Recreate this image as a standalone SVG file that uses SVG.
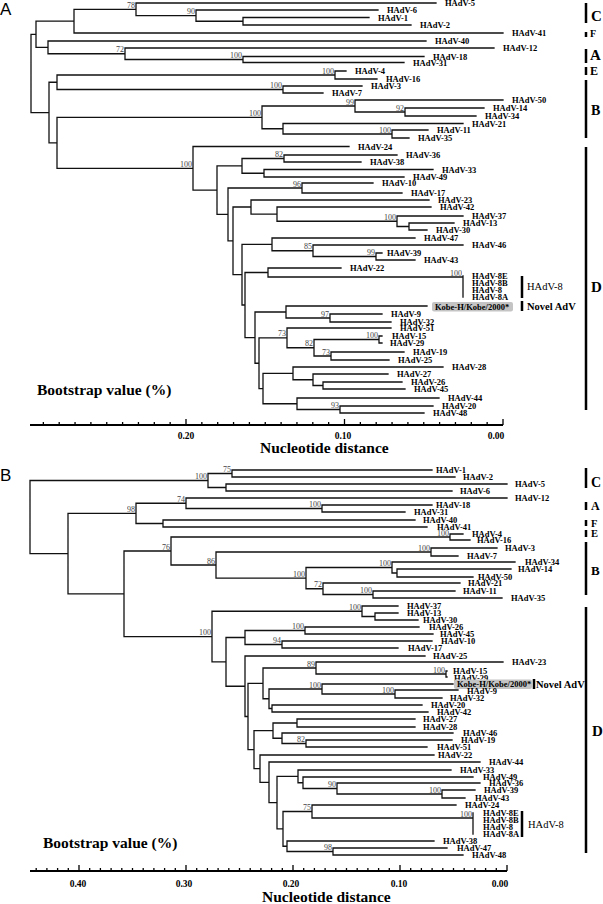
<svg xmlns="http://www.w3.org/2000/svg" width="603" height="904" viewBox="0 0 603 904">
<style>
.br{fill:none;stroke:#111;stroke-width:1.3;stroke-linecap:square}
.lf{font-family:"Liberation Serif",serif;font-weight:bold;font-size:8.5px;fill:#000}
.bs{font-family:"Liberation Serif",serif;font-size:8px;fill:#444;text-anchor:end}
.bsg{opacity:0.99}
.cl{font-family:"Liberation Serif",serif;font-weight:bold;fill:#000}
.bar{stroke:#000;stroke-width:2.5;fill:none}
.ax{stroke:#000;stroke-width:2;fill:none}
.tk{stroke:#000;stroke-width:1.3;fill:none}
.axl{font-family:"Liberation Serif",serif;font-weight:bold;font-size:9.5px;text-anchor:middle}
.ttl{font-family:"Liberation Serif",serif;font-weight:bold;font-size:15.5px}
.pn{font-family:"Liberation Sans",sans-serif;font-size:17px}
.box{fill:#c4c4c4}
</style>
<rect width="603" height="904" fill="#fff"/>
<text class="pn" x="0" y="15">A</text>
<text class="pn" x="0" y="481">B</text>

<g id="connectors">
<path class="br" d="M31 34.3V112.6M31 34.3H36M31 112.6H49
M36 21.15V47.4M36 21.15H74M36 47.4H48
M74 9.3V33M74 9.3H136M74 33H503
M136 3V15.6M136 3H436M136 15.6H196
M196 10V21.25M196 10H378M196 21.25H243
M243 17.5V25M243 17.5H369M243 25H411
M48 41V53.75M48 41H426M48 53.75H125
M125 48V59.5M125 48H494M125 59.5H243
M243 56.5V62.5M243 56.5H424M243 62.5H404
M49 82.25V142.9M49 82.25H57M49 142.9H57
M57 75V89.5M57 75H335M57 89.5H283
M335 71V79M335 71H346M335 79H377
M283 86V93M283 86H362M283 93H323
M57 117.4V168.3M57 117.4H262M57 168.3H193
M262 106V128.75M262 106H355M262 128.75H283
M355 100V112M355 100H503M355 112H405
M405 108V116M405 108H484M405 116H476
M283 123.5V134M283 123.5H463M283 134H392
M392 130V138M392 130H428M392 138H409
M193 146.5V190.15M193 146.5H349M193 190.15H217
M217 165.9V214.4M217 165.9H242M217 214.4H228
M242 158.5V173.25M242 158.5H284M242 173.25H264
M284 155V162M284 155H397M284 162H361
M264 169.5V177M264 169.5H433M264 177H404
M228 188V240.85M228 188H302M228 240.85H233
M302 183V193M302 183H373M302 193H402
M233 207V274.7M233 207H251M233 274.7H242
M251 200V214.1M251 200H429M251 214.1H277
M277 207V221.25M277 207H431M277 221.25H397
M397 216V226.5M397 216H463M397 226.5H409
M409 223V230M409 223H454M409 230H427
M242 244.4V305M242 244.4H272M242 305H245
M272 238V250.75M272 238H415M272 250.75H313
M313 245V256.5M313 245H463M313 256.5H376
M376 253V260M376 253H382M376 260H415
M245 272.5V337.6M245 272.5H268M245 337.6H255
M268 268V277M268 268H341M268 277H463
M463 276V297
M255 312V363.25M255 312H286M255 363.25H259
M286 306V318M286 306H427M286 318H330
M330 314V322M330 314H382M330 322H391
M259 337.9V388.6M259 337.9H287M259 388.6H263
M287 328V347.75M287 328H391M287 347.75H314
M314 339.5V356M314 339.5H379M314 356H331
M379 336V343M379 336H382M379 343H382
M331 352V360M331 352H404M331 360H389
M263 373.4V403.75M263 373.4H293M263 403.75H297
M293 367V379.75M293 367H443M293 379.75H313
M313 374V385.5M313 374H388M313 385.5H323
M323 382V389M323 382H402M323 389H405
M297 398V409.5M297 398H439M297 409.5H340
M340 406V413M340 406H433M340 413H424"/>
<path class="br" d="M30 480.5V553.6M30 480.5H208M30 553.6H68
M208 473.5V487.5M208 473.5H232M208 487.5H226
M232 470V477M232 470H432M232 477H455
M226 484V491M226 484H507M226 491H452
M68 513.4V593.8M68 513.4H136M68 593.8H124
M136 503.25V523.5M136 503.25H186M136 523.5H163
M186 498V508.5M186 498H507M186 508.5H322
M322 505V512M322 505H432M322 512H405
M163 520V527M163 520H415M163 527H427
M124 551V636.6M124 551H171M124 636.6H212
M171 537V565M171 537H450M171 565H216
M450 534V540M450 534H463M450 540H470
M216 552V578.1M216 552H431M216 578.1H306
M431 548V556M431 548H497M431 556H458
M306 567.5V588.75M306 567.5H392M306 588.75H323
M392 562V573M392 562H515M392 573H397
M397 569V577M397 569H511M397 577H473
M323 583V594.5M323 583H460M323 594.5H373
M373 591V598M373 591H455M373 598H502
M212 611.25V661.9M212 611.25H362M212 661.9H226
M362 606V616.5M362 606H398M362 616.5H375
M375 613V620M375 613H398M375 620H418
M226 637.5V686.25M226 637.5H245M226 686.25H245
M245 630.5V644.5M245 630.5H305M245 644.5H282
M305 627V634M305 627H419M305 634H433
M282 641V648M282 641H432M282 648H398
M245 656V716.5M245 656H425M245 716.5H248
M248 683.4V749.6M248 683.4H263M248 749.6H254
M263 668V698.75M263 668H316M263 698.75H269
M316 662V674M316 662H503M316 674H446
M446 671V677M446 671H447M446 677H447
M269 689V708.5M269 689H322M269 708.5H272
M322 684V694M322 684H453M322 694H395
M395 690V698M395 690H458M395 698H442
M272 705V712M272 705H422M272 712H428
M254 730.6V768.65M254 730.6H273M254 768.65H260
M273 723V738.25M273 723H297M273 738.25H282
M297 719V727M297 719H415M297 727H415
M282 733V743.5M282 733H453M282 743.5H306
M306 740V747M306 740H452M306 747H427
M260 755V782.3M260 755H434M260 782.3H269
M269 762V802.6M269 762H480M269 802.6H277
M277 776.4V828.9M277 776.4H298M277 828.9H283
M298 770V782.75M298 770H451M298 782.75H303
M303 777V788.5M303 777H473M303 788.5H337
M337 783V794M337 783H480M337 794H442
M442 790V798M442 790H475M442 798H465
M283 811.5V846.25M283 811.5H312M283 846.25H287
M312 805V818M312 805H456M312 818H473
M473 813V834
M287 841V851.5M287 841H434M287 851.5H333
M333 848V855M333 848H447M333 855H463"/>
</g>

<g id="bootstrap-a" class="bsg">
<text class="bs" x="135" y="7.8">78</text>
<text class="bs" x="195" y="14.1">90</text>
<text class="bs" x="124" y="52.3">72</text>
<text class="bs" x="242" y="58">100</text>
<text class="bs" x="334" y="73.5">100</text>
<text class="bs" x="282" y="88">100</text>
<text class="bs" x="261" y="115.9">100</text>
<text class="bs" x="354" y="104.5">99</text>
<text class="bs" x="404" y="110.5">92</text>
<text class="bs" x="391" y="132.5">100</text>
<text class="bs" x="192" y="166.8">100</text>
<text class="bs" x="283" y="157">82</text>
<text class="bs" x="301" y="186.5">96</text>
<text class="bs" x="396" y="219.7">100</text>
<text class="bs" x="312" y="249.2">85</text>
<text class="bs" x="375" y="255">99</text>
<text class="bs" x="462" y="275.5">100</text>
<text class="bs" x="329" y="316.5">97</text>
<text class="bs" x="378" y="338">100</text>
<text class="bs" x="313" y="346.2">82</text>
<text class="bs" x="330" y="354.5">73</text>
<text class="bs" x="286" y="336.4">73</text>
<text class="bs" x="339" y="408">93</text>
</g>
<g id="bootstrap-b" class="bsg">
<text class="bs" x="207" y="479">100</text>
<text class="bs" x="231" y="472">75</text>
<text class="bs" x="135" y="511.9">98</text>
<text class="bs" x="185" y="501.7">74</text>
<text class="bs" x="321" y="507">100</text>
<text class="bs" x="170" y="549.5">76</text>
<text class="bs" x="215" y="563.5">86</text>
<text class="bs" x="449" y="535.5">100</text>
<text class="bs" x="430" y="550.5">100</text>
<text class="bs" x="391" y="566">100</text>
<text class="bs" x="305" y="576.6">100</text>
<text class="bs" x="322" y="587.2">72</text>
<text class="bs" x="372" y="593">100</text>
<text class="bs" x="361" y="609.7">100</text>
<text class="bs" x="211" y="635.1">100</text>
<text class="bs" x="304" y="629">100</text>
<text class="bs" x="281" y="643">94</text>
<text class="bs" x="315" y="666.5">89</text>
<text class="bs" x="445" y="672.5">100</text>
<text class="bs" x="321" y="687.5">100</text>
<text class="bs" x="394" y="692.5">100</text>
<text class="bs" x="305" y="742">82</text>
<text class="bs" x="336" y="787">90</text>
<text class="bs" x="441" y="792.5">100</text>
<text class="bs" x="311" y="810">75</text>
<text class="bs" x="472" y="816.5">100</text>
<text class="bs" x="332" y="850">98</text>
</g>

<g id="leaves-a">
<g id="a-hadv-5"><text class="lf" x="445" y="6">HAdV-5</text></g>
<g id="a-hadv-6"><text class="lf" x="387" y="13">HAdV-6</text></g>
<g id="a-hadv-1"><text class="lf" x="378" y="20.5">HAdV-1</text></g>
<g id="a-hadv-2"><text class="lf" x="420" y="28">HAdV-2</text></g>
<g id="a-hadv-41"><text class="lf" x="512" y="36">HAdV-41</text></g>
<g id="a-hadv-40"><text class="lf" x="435" y="44">HAdV-40</text></g>
<g id="a-hadv-12"><text class="lf" x="503" y="51">HAdV-12</text></g>
<g id="a-hadv-18"><text class="lf" x="433" y="59.5">HAdV-18</text></g>
<g id="a-hadv-31"><text class="lf" x="413" y="65.5">HAdV-31</text></g>
<g id="a-hadv-4"><text class="lf" x="355" y="74">HAdV-4</text></g>
<g id="a-hadv-16"><text class="lf" x="386" y="82">HAdV-16</text></g>
<g id="a-hadv-3"><text class="lf" x="371" y="89">HAdV-3</text></g>
<g id="a-hadv-7"><text class="lf" x="332" y="96">HAdV-7</text></g>
<g id="a-hadv-50"><text class="lf" x="512" y="103">HAdV-50</text></g>
<g id="a-hadv-14"><text class="lf" x="493" y="111">HAdV-14</text></g>
<g id="a-hadv-34"><text class="lf" x="485" y="119">HAdV-34</text></g>
<g id="a-hadv-21"><text class="lf" x="472" y="126.5">HAdV-21</text></g>
<g id="a-hadv-11"><text class="lf" x="437" y="133">HAdV-11</text></g>
<g id="a-hadv-35"><text class="lf" x="418" y="141">HAdV-35</text></g>
<g id="a-hadv-24"><text class="lf" x="358" y="149.5">HAdV-24</text></g>
<g id="a-hadv-36"><text class="lf" x="406" y="158">HAdV-36</text></g>
<g id="a-hadv-38"><text class="lf" x="370" y="165">HAdV-38</text></g>
<g id="a-hadv-33"><text class="lf" x="442" y="172.5">HAdV-33</text></g>
<g id="a-hadv-49"><text class="lf" x="413" y="180">HAdV-49</text></g>
<g id="a-hadv-10"><text class="lf" x="382" y="186">HAdV-10</text></g>
<g id="a-hadv-17"><text class="lf" x="411" y="196">HAdV-17</text></g>
<g id="a-hadv-23"><text class="lf" x="438" y="203">HAdV-23</text></g>
<g id="a-hadv-42"><text class="lf" x="440" y="210">HAdV-42</text></g>
<g id="a-hadv-37"><text class="lf" x="472" y="219">HAdV-37</text></g>
<g id="a-hadv-13"><text class="lf" x="463" y="226">HAdV-13</text></g>
<g id="a-hadv-30"><text class="lf" x="436" y="233">HAdV-30</text></g>
<g id="a-hadv-47"><text class="lf" x="424" y="241">HAdV-47</text></g>
<g id="a-hadv-46"><text class="lf" x="472" y="248">HAdV-46</text></g>
<g id="a-hadv-39"><text class="lf" x="387" y="256">HAdV-39</text></g>
<g id="a-hadv-43"><text class="lf" x="424" y="263">HAdV-43</text></g>
<g id="a-hadv-22"><text class="lf" x="350" y="271">HAdV-22</text></g>
<g id="a-hadv-8e"><text class="lf" x="472" y="279">HAdV-8E</text></g>
<g id="a-hadv-8b"><text class="lf" x="472" y="286">HAdV-8B</text></g>
<g id="a-hadv-8"><text class="lf" x="472" y="293">HAdV-8</text></g>
<g id="a-hadv-8a"><text class="lf" x="472" y="300">HAdV-8A</text></g>
<g id="a-kobe"><rect class="box" x="432" y="302" width="81" height="9.5" rx="2"/><text class="lf" x="435" y="309.5">Kobe-H/Kobe/2000*</text></g>
<g id="a-hadv-9"><text class="lf" x="391" y="317">HAdV-9</text></g>
<g id="a-hadv-32"><text class="lf" x="400" y="325">HAdV-32</text></g>
<g id="a-hadv-51"><text class="lf" x="400" y="331">HAdV-51</text></g>
<g id="a-hadv-15"><text class="lf" x="392" y="339">HAdV-15</text></g>
<g id="a-hadv-29"><text class="lf" x="390" y="346">HAdV-29</text></g>
<g id="a-hadv-19"><text class="lf" x="413" y="355">HAdV-19</text></g>
<g id="a-hadv-25"><text class="lf" x="398" y="363">HAdV-25</text></g>
<g id="a-hadv-28"><text class="lf" x="452" y="370">HAdV-28</text></g>
<g id="a-hadv-27"><text class="lf" x="397" y="377">HAdV-27</text></g>
<g id="a-hadv-26"><text class="lf" x="411" y="385">HAdV-26</text></g>
<g id="a-hadv-45"><text class="lf" x="414" y="392">HAdV-45</text></g>
<g id="a-hadv-44"><text class="lf" x="448" y="401">HAdV-44</text></g>
<g id="a-hadv-20"><text class="lf" x="442" y="409">HAdV-20</text></g>
<g id="a-hadv-48"><text class="lf" x="433" y="416">HAdV-48</text></g>
</g>

<g id="leaves-b">
<g id="b-hadv-1"><text class="lf" x="436" y="473">HAdV-1</text></g>
<g id="b-hadv-2"><text class="lf" x="463" y="480">HAdV-2</text></g>
<g id="b-hadv-5"><text class="lf" x="515" y="487">HAdV-5</text></g>
<g id="b-hadv-6"><text class="lf" x="460" y="494">HAdV-6</text></g>
<g id="b-hadv-12"><text class="lf" x="515" y="501">HAdV-12</text></g>
<g id="b-hadv-18"><text class="lf" x="436" y="508">HAdV-18</text></g>
<g id="b-hadv-31"><text class="lf" x="414" y="515">HAdV-31</text></g>
<g id="b-hadv-40"><text class="lf" x="423" y="523">HAdV-40</text></g>
<g id="b-hadv-41"><text class="lf" x="437" y="530">HAdV-41</text></g>
<g id="b-hadv-4"><text class="lf" x="472" y="537">HAdV-4</text></g>
<g id="b-hadv-16"><text class="lf" x="477" y="543">HAdV-16</text></g>
<g id="b-hadv-3"><text class="lf" x="505" y="551">HAdV-3</text></g>
<g id="b-hadv-7"><text class="lf" x="467" y="559">HAdV-7</text></g>
<g id="b-hadv-34"><text class="lf" x="525" y="565">HAdV-34</text></g>
<g id="b-hadv-14"><text class="lf" x="518" y="572">HAdV-14</text></g>
<g id="b-hadv-50"><text class="lf" x="478" y="580">HAdV-50</text></g>
<g id="b-hadv-21"><text class="lf" x="468" y="586">HAdV-21</text></g>
<g id="b-hadv-11"><text class="lf" x="463" y="594">HAdV-11</text></g>
<g id="b-hadv-35"><text class="lf" x="511" y="601">HAdV-35</text></g>
<g id="b-hadv-37"><text class="lf" x="407" y="609">HAdV-37</text></g>
<g id="b-hadv-13"><text class="lf" x="407" y="616">HAdV-13</text></g>
<g id="b-hadv-30"><text class="lf" x="423" y="623">HAdV-30</text></g>
<g id="b-hadv-26"><text class="lf" x="429" y="630">HAdV-26</text></g>
<g id="b-hadv-45"><text class="lf" x="440" y="637">HAdV-45</text></g>
<g id="b-hadv-10"><text class="lf" x="441" y="644">HAdV-10</text></g>
<g id="b-hadv-17"><text class="lf" x="408" y="651">HAdV-17</text></g>
<g id="b-hadv-25"><text class="lf" x="433" y="659">HAdV-25</text></g>
<g id="b-hadv-23"><text class="lf" x="512" y="665">HAdV-23</text></g>
<g id="b-hadv-15"><text class="lf" x="453" y="674">HAdV-15</text></g>
<g id="b-hadv-29"><text class="lf" x="454" y="680.5">HAdV-29</text></g>
<g id="b-kobe"><rect class="box" x="454" y="679.5" width="78" height="9.5" rx="2"/><text class="lf" x="457" y="687">Kobe-H/Kobe/2000*</text></g>
<g id="b-hadv-9"><text class="lf" x="467" y="693.5">HAdV-9</text></g>
<g id="b-hadv-32"><text class="lf" x="450" y="701">HAdV-32</text></g>
<g id="b-hadv-20"><text class="lf" x="431" y="708">HAdV-20</text></g>
<g id="b-hadv-42"><text class="lf" x="437" y="715">HAdV-42</text></g>
<g id="b-hadv-27"><text class="lf" x="423" y="722">HAdV-27</text></g>
<g id="b-hadv-28"><text class="lf" x="423" y="730">HAdV-28</text></g>
<g id="b-hadv-46"><text class="lf" x="463" y="736">HAdV-46</text></g>
<g id="b-hadv-19"><text class="lf" x="461" y="743">HAdV-19</text></g>
<g id="b-hadv-51"><text class="lf" x="437" y="750">HAdV-51</text></g>
<g id="b-hadv-22"><text class="lf" x="438" y="758">HAdV-22</text></g>
<g id="b-hadv-44"><text class="lf" x="489" y="765">HAdV-44</text></g>
<g id="b-hadv-33"><text class="lf" x="460" y="773">HAdV-33</text></g>
<g id="b-hadv-49"><text class="lf" x="483" y="780">HAdV-49</text></g>
<g id="b-hadv-36"><text class="lf" x="489" y="786">HAdV-36</text></g>
<g id="b-hadv-39"><text class="lf" x="484" y="793">HAdV-39</text></g>
<g id="b-hadv-43"><text class="lf" x="475" y="801">HAdV-43</text></g>
<g id="b-hadv-24"><text class="lf" x="465" y="808">HAdV-24</text></g>
<g id="b-hadv-8e"><text class="lf" x="483" y="816">HAdV-8E</text></g>
<g id="b-hadv-8b"><text class="lf" x="483" y="823">HAdV-8B</text></g>
<g id="b-hadv-8"><text class="lf" x="483" y="830">HAdV-8</text></g>
<g id="b-hadv-8a"><text class="lf" x="483" y="837">HAdV-8A</text></g>
<g id="b-hadv-38"><text class="lf" x="443" y="844">HAdV-38</text></g>
<g id="b-hadv-47"><text class="lf" x="457" y="851">HAdV-47</text></g>
<g id="b-hadv-48"><text class="lf" x="472" y="858">HAdV-48</text></g>
</g>

<g id="clades-a">
<path class="bar" d="M586 3V23M586 32V37M586 49V63M586 67V75M586 80V138M586 147V410M522 276V298M522 301V311"/>
<text class="cl" x="591" y="20.7" font-size="15">C</text>
<text class="cl" x="590" y="37" font-size="10">F</text>
<text class="cl" x="590" y="60" font-size="15">A</text>
<text class="cl" x="590" y="75" font-size="12">E</text>
<text class="cl" x="591" y="115" font-size="14">B</text>
<text class="cl" x="591" y="292" font-size="15">D</text>
<text x="527" y="290" font-family="Liberation Serif, serif" font-size="10.5">HAdV-8</text>
<text class="cl" x="527" y="310" font-size="10.5">Novel AdV</text>
</g>
<g id="clades-b">
<path class="bar" d="M586 468V488M586 502V510M586 520V526M586 530V537M586 542V595M586 607V853M522 811V837M534 679V689"/>
<text class="cl" x="591" y="487" font-size="14">C</text>
<text class="cl" x="591" y="510" font-size="12">A</text>
<text class="cl" x="591" y="527" font-size="10.5">F</text>
<text class="cl" x="591" y="537" font-size="10.5">E</text>
<text class="cl" x="591" y="575" font-size="13">B</text>
<text class="cl" x="592" y="736" font-size="15">D</text>
<text x="528" y="828" font-family="Liberation Serif, serif" font-size="10.5">HAdV-8</text>
<text class="cl" x="536" y="688" font-size="10.5">Novel AdV</text>
</g>

<g id="axis-a">
<path class="ax" d="M30 425H503"/>
<path class="tk" d="M503 425v-6M487.15 425v-3M471.3 425v-3M455.45 425v-3M439.6 425v-3M423.75 425v-3M407.9 425v-3M392.05 425v-3M376.2 425v-3M360.35 425v-3M344.5 425v-6M328.65 425v-3M312.8 425v-3M296.95 425v-3M281.1 425v-3M265.25 425v-3M249.4 425v-3M233.55 425v-3M217.7 425v-3M201.85 425v-3M186 425v-6M170.15 425v-3M154.3 425v-3M138.45 425v-3M122.6 425v-3M106.75 425v-3M90.9 425v-3M75.05 425v-3M59.2 425v-3M43.35 425v-3"/>
<text class="axl" x="186" y="439">0.20</text>
<text class="axl" x="343" y="439">0.10</text>
<text class="axl" x="496" y="439">0.00</text>
<text class="ttl" x="37" y="395">Bootstrap value (%)</text>
<text class="ttl" x="260" y="453">Nucleotide distance</text>
</g>
<g id="axis-b">
<path class="ax" d="M30 871H507"/>
<path class="tk" d="M507 871v-6M496.3 871v-3M485.6 871v-3M474.9 871v-3M464.2 871v-3M453.5 871v-3M442.8 871v-3M432.1 871v-3M421.4 871v-3M410.7 871v-3M400 871v-6M389.3 871v-3M378.6 871v-3M367.9 871v-3M357.2 871v-3M346.5 871v-3M335.8 871v-3M325.1 871v-3M314.4 871v-3M303.7 871v-3M293 871v-6M282.3 871v-3M271.6 871v-3M260.9 871v-3M250.2 871v-3M239.5 871v-3M228.8 871v-3M218.1 871v-3M207.4 871v-3M196.7 871v-3M186 871v-6M175.3 871v-3M164.6 871v-3M153.9 871v-3M143.2 871v-3M132.5 871v-3M121.8 871v-3M111.1 871v-3M100.4 871v-3M89.7 871v-3M79 871v-6M68.3 871v-3M57.6 871v-3M46.9 871v-3M36.2 871v-3"/>
<text class="axl" x="78" y="887">0.40</text>
<text class="axl" x="184" y="887">0.30</text>
<text class="axl" x="291" y="887">0.20</text>
<text class="axl" x="399" y="887">0.10</text>
<text class="axl" x="500" y="887">0.00</text>
<text class="ttl" x="43" y="848">Bootstrap value (%)</text>
<text class="ttl" x="262" y="902">Nucleotide distance</text>
</g>
</svg>
